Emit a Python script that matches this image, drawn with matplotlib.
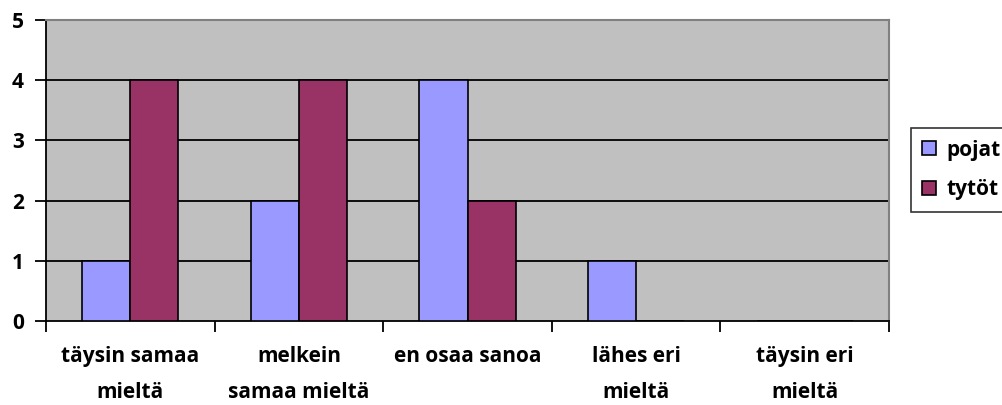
import matplotlib.pyplot as plt
import numpy as np

categories = ['täysin samaa\nmieltä', 'melkein\nsamaa mieltä', 'en osaa sanoa', 'lähes eri\nmieltä', 'täysin eri\nmieltä']
pojat = [1, 2, 4, 1, 0]
tytot = [4, 4, 2, 0, 0]

plt.rcParams['font.family'] = ['Open Sans', 'DejaVu Sans']
plt.rcParams['font.weight'] = 'bold'

fig = plt.figure(figsize=(10.03, 4.05), dpi=100)
ax = fig.add_axes([0.0459, 0.207, 0.8405, 0.744])
ax.set_facecolor('#C0C0C0')

x = np.arange(len(categories))
w = 0.285
ax.bar(x - w / 2, pojat, w, color='#9999FF', edgecolor='black', linewidth=1.2, label='pojat', zorder=3)
ax.bar(x + w / 2, tytot, w, color='#993366', edgecolor='black', linewidth=1.2, label='tytöt', zorder=3)

ax.set_xlim(-0.5, len(categories) - 0.5)
ax.set_ylim(0, 5)
ax.set_yticks(range(6))
for yv in range(1, 5):
    ax.axhline(yv, color='black', linewidth=1.3, zorder=1)

ax.set_xticks(x)
ax.set_xticklabels(categories, fontsize=15, fontweight='bold', linespacing=1.95)
ax.tick_params(axis='x', which='major', length=0, pad=18)
ax.set_xticks(np.arange(-0.5, len(categories)), minor=True)
ax.tick_params(axis='x', which='minor', length=8, width=1.3, direction='out')
ax.tick_params(axis='y', length=8, width=1.3, direction='out', labelsize=15, pad=8)
for lab in ax.get_yticklabels():
    lab.set_fontweight('bold')

ax.spines['left'].set_linewidth(1.3)
ax.spines['bottom'].set_linewidth(1.3)
ax.spines['top'].set_color('#808080')
ax.spines['right'].set_color('#808080')
ax.spines['top'].set_linewidth(1.5)
ax.spines['right'].set_linewidth(1.5)

leg = fig.legend(loc='center left', bbox_to_anchor=(0.908, 0.58), frameon=True, fancybox=False,
                 edgecolor='black', fontsize=15, handlelength=0.65, handleheight=0.65,
                 handletextpad=0.5, labelspacing=0.9, borderpad=0.55, borderaxespad=0)
leg.get_frame().set_linewidth(1.2)
for t in leg.get_texts():
    t.set_fontweight('bold')

fig.savefig('out.png', dpi=100)
